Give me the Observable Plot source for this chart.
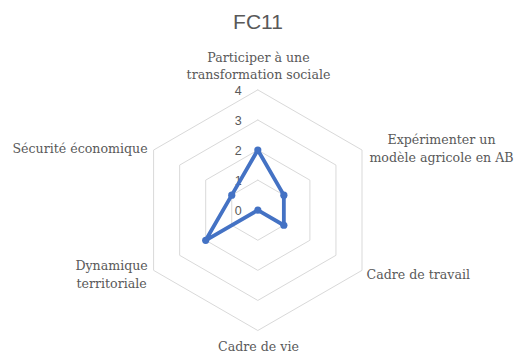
<!DOCTYPE html>
<html><head><meta charset="utf-8">
<script src="https://cdn.jsdelivr.net/npm/d3@7"></script>
<script src="https://cdn.jsdelivr.net/npm/@observablehq/plot@0.6"></script>
<style>
body{margin:0;background:#fff;}
#title{height:40px;box-sizing:border-box;padding-top:10px;text-align:center;font:21px "Liberation Sans",Arial,sans-serif;line-height:24px;color:#595959;}
</style>
</head><body>
<div id="title"></div>
<div id="chart"></div>
<script>
// ---- data ----
const chartTitle = "FC11";
const axisLabels = [
  "Participer à une\ntransformation sociale",
  "Expérimenter un\nmodèle agricole en AB",
  "Cadre de travail",
  "Cadre de vie",
  "Dynamique\nterritoriale",
  "Sécurité économique"
];
const seriesValues = [2, 1, 1, 0, 2, 1];
const gridLevels = [1, 2, 3, 4];
const tickValues = [0, 1, 2, 3, 4];
const tickLabels = ["0", "1", "2", "3", "4"];

// ---- layout (styling only) ----
const W = 516, H = 316;
const cx = 257.3, cy = 169.7, unit = 30.08;
const labelLayout = [
  {anchor: "middle", dx: 0.7, dy: -25},
  {anchor: "middle", dx: 79.5, dy: -2.5},
  {anchor: "start", dx: 4.5, dy: 3},
  {anchor: "middle", dx: 0.7, dy: 15},
  {anchor: "middle", dx: -42, dy: 3},
  {anchor: "end", dx: -6, dy: -3}
];

document.getElementById("title").textContent = chartTitle;

const n = axisLabels.length;
const ang = i => i * 2 * Math.PI / n;
const px = (i, r) => r * Math.sin(ang(i));
const py = (i, r) => r * Math.cos(ang(i));

const gridRows = [];
for (const lv of gridLevels) for (let i = 0; i <= n; i++) gridRows.push({lv, x: px(i % n, lv), y: py(i % n, lv)});
const seriesRows = [];
for (let i = 0; i <= n; i++) seriesRows.push({x: px(i % n, seriesValues[i % n]), y: py(i % n, seriesValues[i % n])});
const dotRows = seriesValues.map((v, i) => ({x: px(i, v), y: py(i, v)}));
const maxR = gridLevels[gridLevels.length - 1];
const labelRows = axisLabels.map((t, i) => ({t, x: px(i, maxR), y: py(i, maxR), ...labelLayout[i]}));
const tickRows = tickValues.map((v, i) => ({t: tickLabels[i], x: 0, y: v}));

const serif = "'DejaVu Serif', 'Liberation Serif', serif";
const textMarks = labelRows.map(d => Plot.text([d], {
  x: "x", y: "y", text: "t", textAnchor: d.anchor, dx: d.dx, dy: d.dy,
  lineAnchor: "middle", lineHeight: 1.4, fontSize: 12.6, fontFamily: serif, fill: "#595959"
}));

const chart = Plot.plot({
  width: W, height: H,
  margin: 0,
  x: {domain: [-cx / unit, (W - cx) / unit], axis: null},
  y: {domain: [(cy - H) / unit, cy / unit], axis: null},
  marks: [
    Plot.line(gridRows, {x: "x", y: "y", z: "lv", stroke: "#d9d9d9", strokeWidth: 1}),
    Plot.text(tickRows, {x: "x", y: "y", text: "t", textAnchor: "end", dx: -16, dy: 1, fontSize: 12.5,
      fontFamily: "'Liberation Sans', Arial, sans-serif", fill: "#595959"}),
    Plot.line(seriesRows, {x: "x", y: "y", stroke: "#4472C4", strokeWidth: 3.8, strokeLinejoin: "round"}),
    Plot.dot(dotRows, {x: "x", y: "y", r: 3.6, fill: "#4472C4", stroke: "none"}),
    ...textMarks
  ]
});
document.getElementById("chart").appendChild(chart);
</script>
</body></html>
